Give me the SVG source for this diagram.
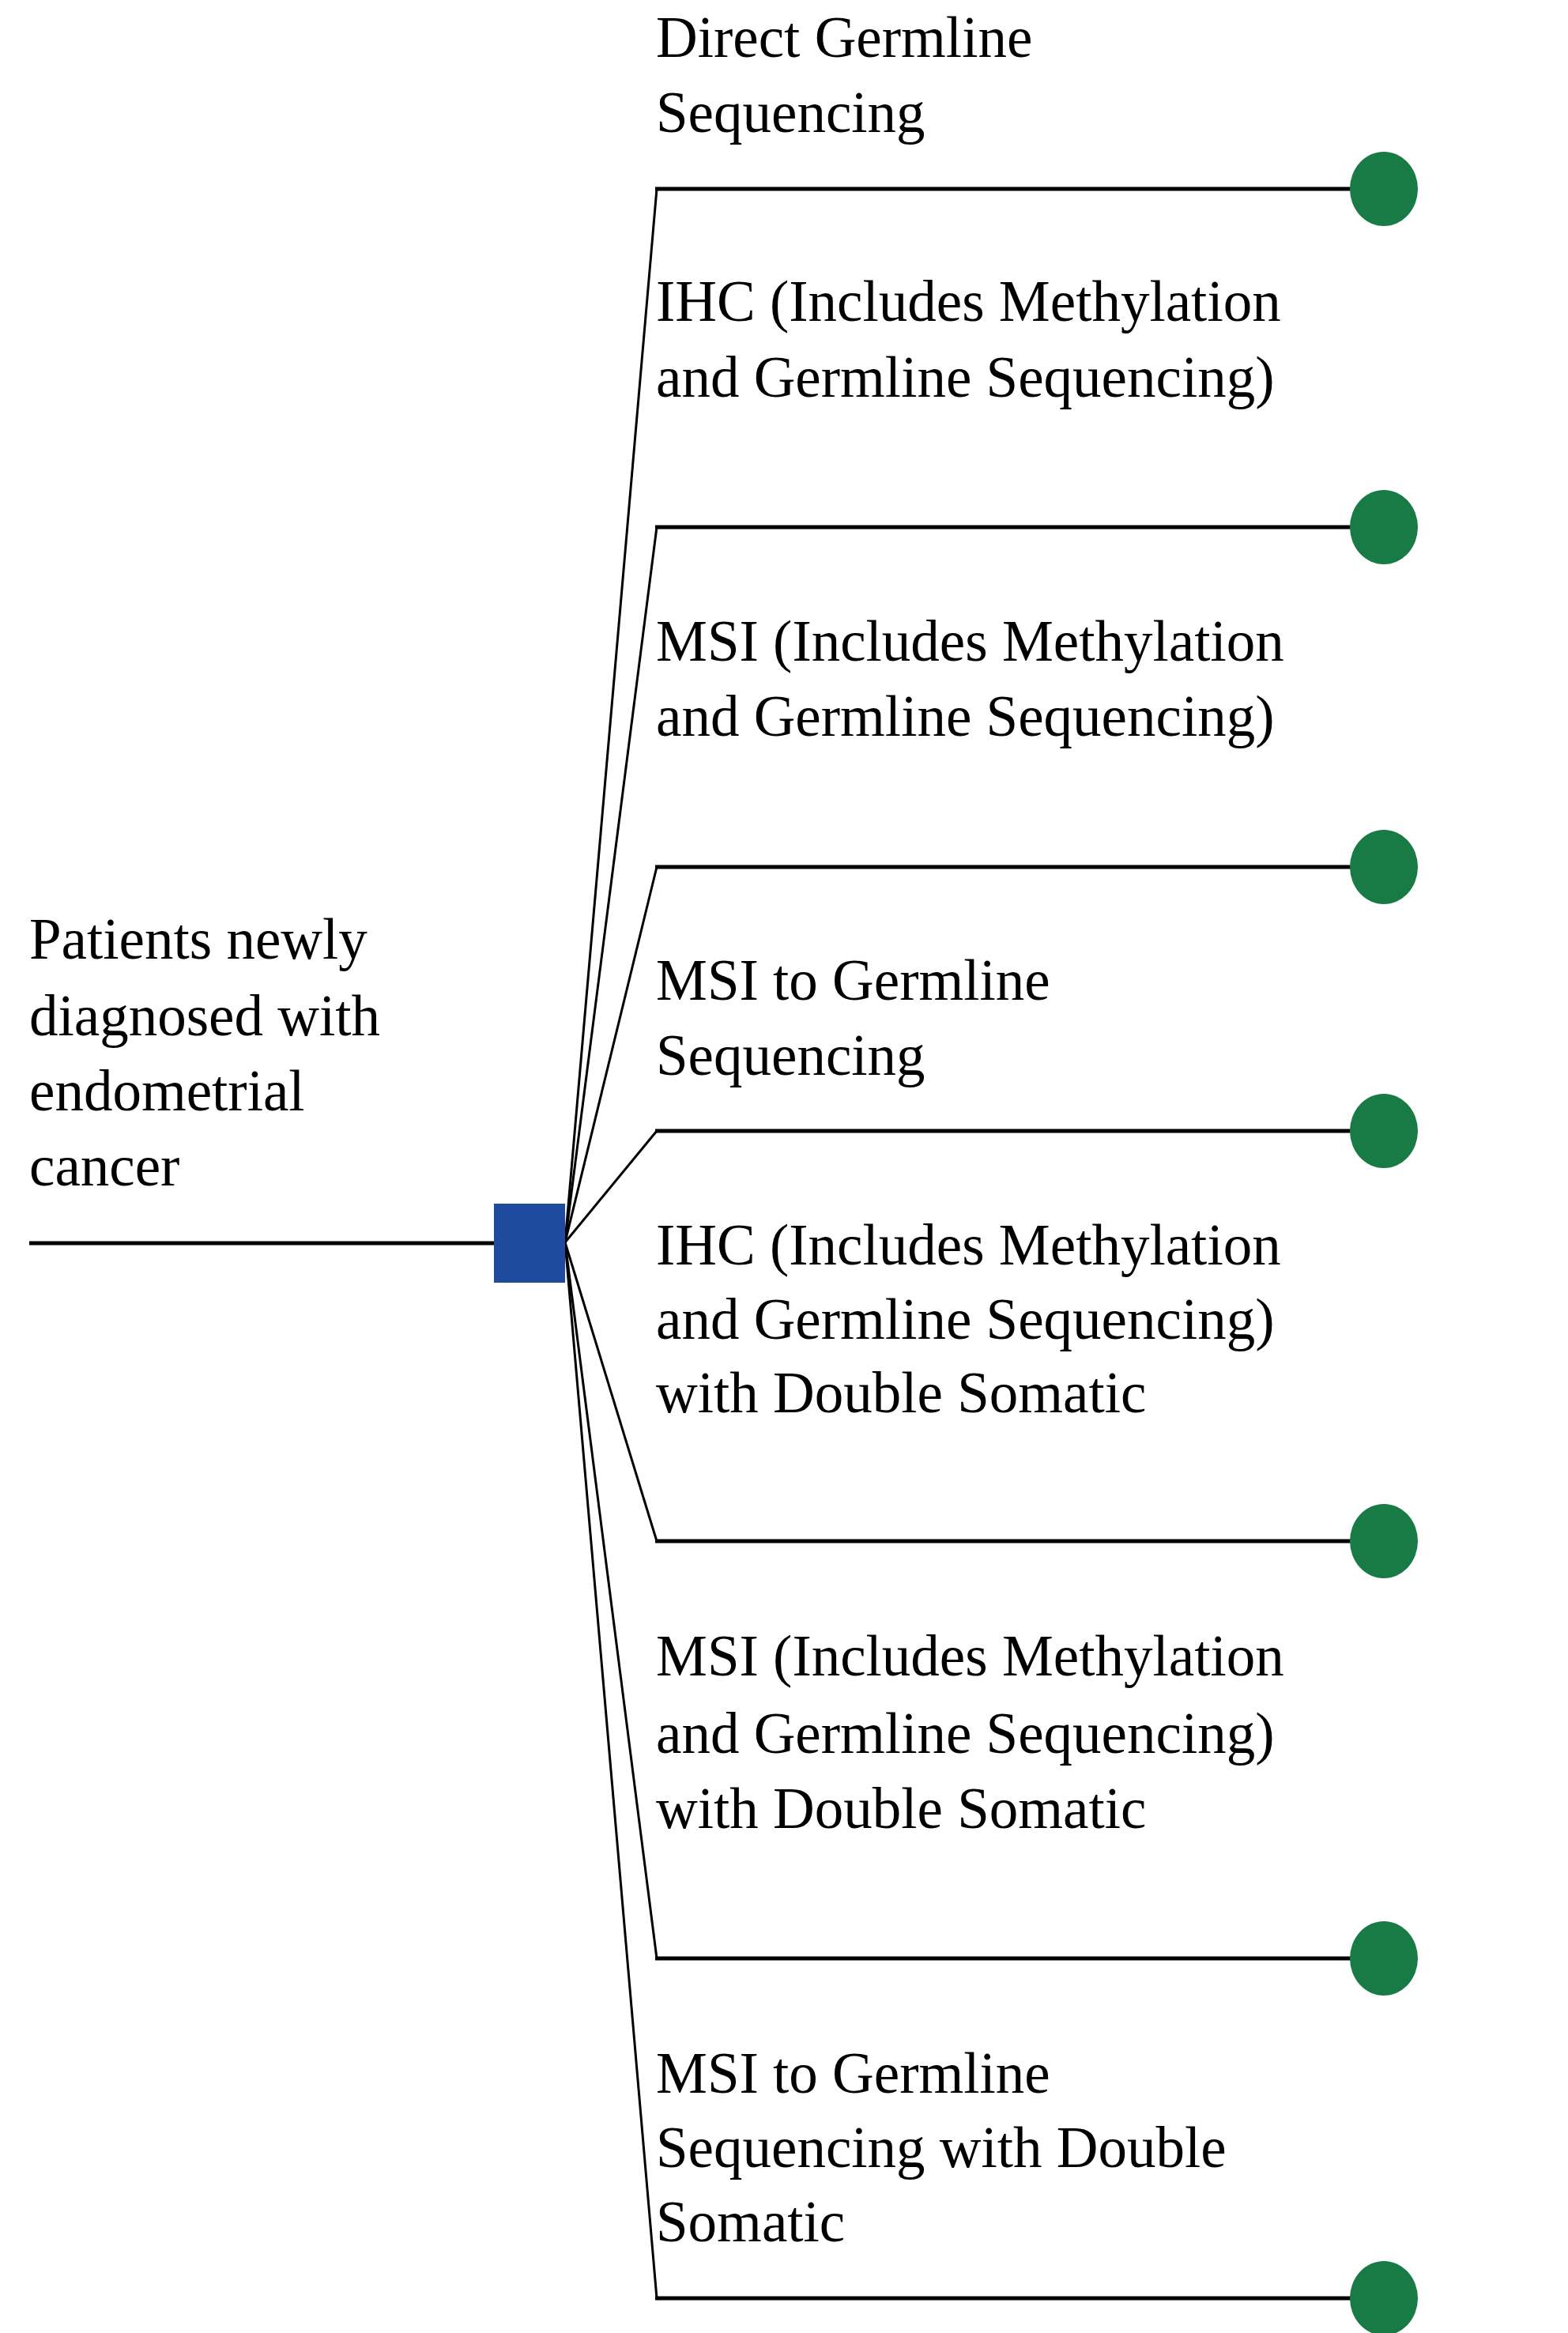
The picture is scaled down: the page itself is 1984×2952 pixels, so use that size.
<svg xmlns="http://www.w3.org/2000/svg" width="1984" height="2952" viewBox="0 0 1984 2952">
<style>
  text { font-family: "Liberation Serif", "Times New Roman", serif; font-size: 73px; fill: #000; }
  .h { stroke: #000; stroke-width: 5; fill: none; }
  .d { stroke: #000; stroke-width: 3; fill: none; }
  .term { fill: #187b45; }
</style>
<rect width="1984" height="2952" fill="#fff"/>
<g id="connectors">
  <line class="h" x1="37" y1="1573" x2="625" y2="1573"/>
  <polyline class="d" points="715,1572 831,239"/>
  <polyline class="d" points="715,1572 831,667"/>
  <polyline class="d" points="715,1572 831,1097"/>
  <polyline class="d" points="715,1572 831,1431"/>
  <polyline class="d" points="715,1572 831,1950"/>
  <polyline class="d" points="715,1572 831,2478"/>
  <polyline class="d" points="715,1572 831,2908"/>
  <line class="h" x1="829" y1="239" x2="1751" y2="239"/>
  <line class="h" x1="829" y1="667" x2="1751" y2="667"/>
  <line class="h" x1="829" y1="1097" x2="1751" y2="1097"/>
  <line class="h" x1="829" y1="1431" x2="1751" y2="1431"/>
  <line class="h" x1="829" y1="1950" x2="1751" y2="1950"/>
  <line class="h" x1="829" y1="2478" x2="1751" y2="2478"/>
  <line class="h" x1="829" y1="2908" x2="1751" y2="2908"/>
</g>
<g id="root">
  <text x="37" y="1213" font-size="74">Patients newly</text>
  <text x="37" y="1310" font-size="74">diagnosed with</text>
  <text x="37" y="1405" font-size="74">endometrial</text>
  <text x="37" y="1500" font-size="74">cancer</text>
</g>
<g id="decision">
  <rect x="625" y="1523" width="90" height="100" fill="#1f4b9f"/>
</g>
<g id="branch1">
  <text x="830" y="72">Direct Germline</text>
  <text x="830" y="167">Sequencing</text>
  <ellipse class="term" cx="1751" cy="239" rx="43" ry="47"/>
</g>
<g id="branch2">
  <text x="830" y="406">IHC (Includes Methylation</text>
  <text x="830" y="502">and Germline Sequencing)</text>
  <ellipse class="term" cx="1751" cy="667" rx="43" ry="47"/>
</g>
<g id="branch3">
  <text x="830" y="836">MSI (Includes Methylation</text>
  <text x="830" y="931">and Germline Sequencing)</text>
  <ellipse class="term" cx="1751" cy="1097" rx="43" ry="47"/>
</g>
<g id="branch4">
  <text x="830" y="1265">MSI to Germline</text>
  <text x="830" y="1360">Sequencing</text>
  <ellipse class="term" cx="1751" cy="1431" rx="43" ry="47"/>
</g>
<g id="branch5">
  <text x="830" y="1600">IHC (Includes Methylation</text>
  <text x="830" y="1694">and Germline Sequencing)</text>
  <text x="830" y="1787">with Double Somatic</text>
  <ellipse class="term" cx="1751" cy="1950" rx="43" ry="47"/>
</g>
<g id="branch6">
  <text x="830" y="2120">MSI (Includes Methylation</text>
  <text x="830" y="2218">and Germline Sequencing)</text>
  <text x="830" y="2313">with Double Somatic</text>
  <ellipse class="term" cx="1751" cy="2478" rx="43" ry="47"/>
</g>
<g id="branch7">
  <text x="830" y="2648">MSI to Germline</text>
  <text x="830" y="2742">Sequencing with Double</text>
  <text x="830" y="2836">Somatic</text>
  <ellipse class="term" cx="1751" cy="2908" rx="43" ry="47"/>
</g>
</svg>
